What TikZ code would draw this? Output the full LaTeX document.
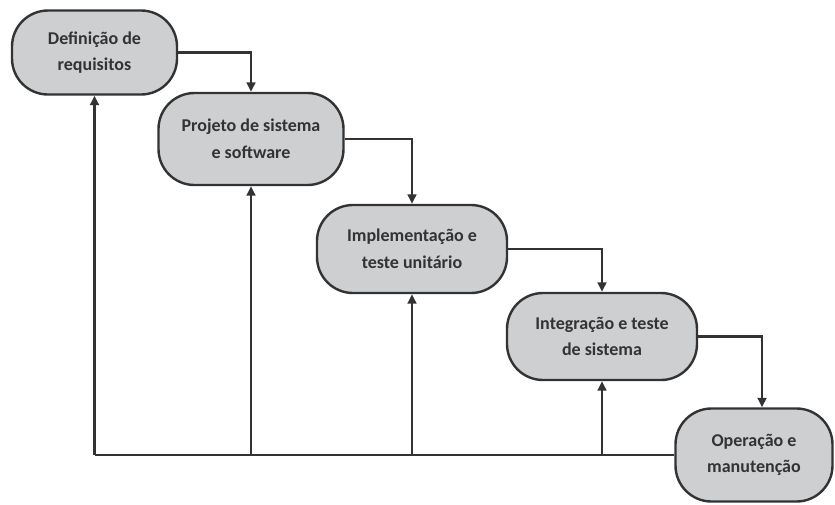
\documentclass[tikz,border=0pt]{standalone}
\usepackage{fontspec}
\setmainfont{Carlito}
\usetikzlibrary{arrows.meta}
\definecolor{ink}{HTML}{333333}
\definecolor{boxfill}{HTML}{CDCFD1}
\tikzset{
  phase/.style={draw=ink, fill=boxfill, line width=1.8pt, rounded corners=27pt,
    inner sep=0pt, align=center, text=ink,
    font=\fontsize{13.5}{20}\selectfont\bfseries},
  flow/.style={draw=ink, line width=1.6pt, -{Triangle[length=7pt,width=6.5pt]}},
  link/.style={draw=ink, line width=1.6pt}
}
\begin{document}
\begin{tikzpicture}[x=0.75pt,y=-0.75pt]
\useasboundingbox (0,0) rectangle (835,504);
\node[phase, minimum width=123.75pt, minimum height=63pt] (b1) at (94.5,52.5) {Definição de\\requisitos};
\node[phase, minimum width=138.75pt, minimum height=69pt] (b2) at (251,139) {Projeto de sistema\\e software};
\node[phase, minimum width=142.5pt, minimum height=66pt] (b3) at (412,249) {Implementação e\\teste unitário};
\node[phase, minimum width=142.5pt, minimum height=65.25pt] (b4) at (602,336.5) {Integração e teste\\de sistema};
\node[phase, minimum width=117.75pt, minimum height=69.75pt] (b5) at (754,455) {Operação e\\manutenção};
% forward cascade
\draw[flow] (b1.east) -| (b2.north);
\draw[flow] (b2.east) -| (b3.north);
\draw[flow] (b3.east) -| (b4.north);
\draw[flow] (b4.east) -| ([xshift=6pt]b5.north);
% feedback paths
\coordinate (base) at (b1.south |- b5.west);
\draw[link] (b5.west) -- (base);
\draw[flow] (base) -- (b1.south);
\draw[flow] (b2.south |- b5.west) -- (b2.south);
\draw[flow] (b3.south |- b5.west) -- (b3.south);
\draw[flow] (b4.south |- b5.west) -- (b4.south);
\end{tikzpicture}
\end{document}
